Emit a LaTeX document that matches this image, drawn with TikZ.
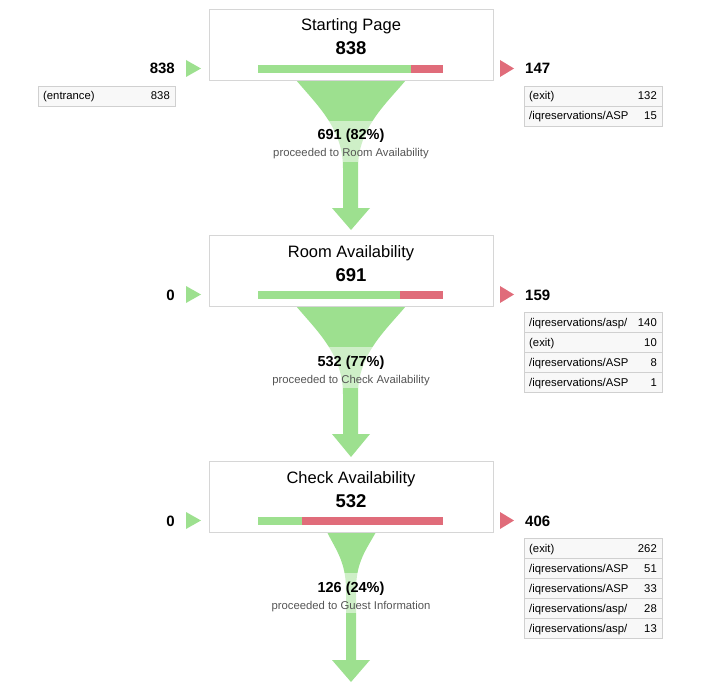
\documentclass[tikz,border=0pt]{standalone}
\usepackage{fontspec}
\setmainfont{Liberation Sans}
\definecolor{fgreen}{RGB}{157,224,143}
\definecolor{fred}{RGB}{224,108,122}
\definecolor{boxgray}{RGB}{214,214,214}
\definecolor{cellgray}{RGB}{208,208,208}
\definecolor{cellfill}{RGB}{248,248,248}
\definecolor{subgray}{RGB}{85,85,85}
\tikzset{
  stepbox/.style={draw=boxgray, fill=white, line width=0.8pt, minimum width=284pt, minimum height=71pt, inner sep=0pt, anchor=north},
  titletxt/.style={font=\fontsize{16.5}{18}\selectfont, anchor=base, inner sep=0pt},
  bignum/.style={font=\bfseries\fontsize{18.5}{20}\selectfont, anchor=base, inner sep=0pt},
  sidenum/.style={font=\bfseries\fontsize{15}{17}\selectfont, inner sep=0pt},
  pcttxt/.style={font=\bfseries\fontsize{14.5}{16}\selectfont, anchor=base, inner sep=0pt},
  subtxt/.style={font=\fontsize{11.3}{13}\selectfont, text=subgray, anchor=base, inner sep=0pt},
  cell/.style={draw=cellgray, fill=cellfill, line width=0.7pt, minimum width=138pt, minimum height=20pt, inner sep=0pt, anchor=north west},
  celltxt/.style={font=\fontsize{11.3}{13}\selectfont, inner sep=0pt},
  funnel/.style={fill=fgreen, draw=none},
  band/.style={fill=white, opacity=0.5, draw=none},
}
\begin{document}
\begin{tikzpicture}[x=1pt,y=-1pt]
\useasboundingbox (0,0) rectangle (725,687);

% ---------- funnels (drawn first, under boxes) ----------
% step 1 -> 2
\fill[funnel] (296,80) .. controls (316,104) and (343,128) .. (343,168) -- (343,208) -- (332,208) -- (351,230) -- (370,208) -- (358,208) -- (358,168) .. controls (358,128) and (386,104) .. (406,80) -- cycle;
\fill[band] (290,121) rectangle (412,162);
% step 2 -> 3
\fill[funnel] (296,306) .. controls (316,330) and (343,354) .. (343,394) -- (343,434) -- (332,434) -- (351,457) -- (370,434) -- (358,434) -- (358,394) .. controls (358,354) and (386,330) .. (406,306) -- cycle;
\fill[band] (290,347) rectangle (412,388);
% step 3 -> next
\fill[funnel] (327,532) .. controls (336,550) and (346,562) .. (346,590) -- (346,660) -- (332,660) -- (351,682) -- (370,660) -- (356,660) -- (356,590) .. controls (356,562) and (366,550) .. (376,532) -- cycle;
\fill[band] (320,573) rectangle (382,613);

% ---------- step boxes ----------
\node[stepbox] (b1) at (351,9) {};
\node[stepbox] (b2) at (351,235) {};
\node[stepbox] (b3) at (351,461) {};

\node[titletxt] (t1) at (351,31) {Starting Page};
\node[bignum] (n1) at (351,55) {838};
\node[titletxt] (t2) at (351,257) {Room Availability};
\node[bignum] (n2) at (351,281) {691};
\node[titletxt] (t3) at (351,483) {Check Availability};
\node[bignum] (n3) at (351,507) {532};

% bars
\fill[fgreen] (258,65) rectangle (411,73);
\fill[fred] (411,65) rectangle (443,73);
\fill[fgreen] (258,291) rectangle (400,299);
\fill[fred] (400,291) rectangle (443,299);
\fill[fgreen] (258,517) rectangle (302,525);
\fill[fred] (302,517) rectangle (443,525);

% funnel labels
\node[pcttxt] (p1) at (351,140) {691 (82\%)};
\node[subtxt] (s1) at (351,157) {proceeded to Room Availability};
\node[pcttxt] (p2) at (351,366) {532 (77\%)};
\node[subtxt] (s2) at (351,383) {proceeded to Check Availability};
\node[pcttxt] (p3) at (351,592) {126 (24\%)};
\node[subtxt] (s3) at (351,609) {proceeded to Guest Information};

% ---------- left side (entrances) ----------
\fill[fgreen] (186,60) -- (201,68.5) -- (186,77) -- cycle;
\fill[fgreen] (186,286) -- (201,294.5) -- (186,303) -- cycle;
\fill[fgreen] (186,512) -- (201,520.5) -- (186,529) -- cycle;
\node[sidenum, anchor=base east] (l1) at (175,74) {838};
\node[sidenum, anchor=base east] (l2) at (175,300) {0};
\node[sidenum, anchor=base east] (l3) at (175,526) {0};

\node[cell, minimum width=137pt] (e1) at (38,86) {};
\node[celltxt, anchor=base west] at (43,100) {(entrance)};
\node[celltxt, anchor=base east] at (170,100) {838};

% ---------- right side (exits) ----------
\fill[fred] (500,60) -- (514,68.5) -- (500,77) -- cycle;
\fill[fred] (500,286) -- (514,294.5) -- (500,303) -- cycle;
\fill[fred] (500,512) -- (514,520.5) -- (500,529) -- cycle;
\node[sidenum, anchor=base west] (r1) at (525,74) {147};
\node[sidenum, anchor=base west] (r2) at (525,300) {159};
\node[sidenum, anchor=base west] (r3) at (525,526) {406};

% exit table 1
\node[cell] (x11) at (524,86) {};
\node[celltxt, anchor=base west] at (529,100) {(exit)};
\node[celltxt, anchor=base east] at (657,100) {132};
\node[cell] (x12) at (524,106) {};
\node[celltxt, anchor=base west] at (529,120) {/iqreservations/ASP};
\node[celltxt, anchor=base east] at (657,120) {15};

% exit table 2
\node[cell] (x21) at (524,312) {};
\node[celltxt, anchor=base west] at (529,326) {/iqreservations/asp/};
\node[celltxt, anchor=base east] at (657,326) {140};
\node[cell] (x22) at (524,332) {};
\node[celltxt, anchor=base west] at (529,346) {(exit)};
\node[celltxt, anchor=base east] at (657,346) {10};
\node[cell] (x23) at (524,352) {};
\node[celltxt, anchor=base west] at (529,366) {/iqreservations/ASP};
\node[celltxt, anchor=base east] at (657,366) {8};
\node[cell] (x24) at (524,372) {};
\node[celltxt, anchor=base west] at (529,386) {/iqreservations/ASP};
\node[celltxt, anchor=base east] at (657,386) {1};

% exit table 3
\node[cell] (x31) at (524,538) {};
\node[celltxt, anchor=base west] at (529,552) {(exit)};
\node[celltxt, anchor=base east] at (657,552) {262};
\node[cell] (x32) at (524,558) {};
\node[celltxt, anchor=base west] at (529,572) {/iqreservations/ASP};
\node[celltxt, anchor=base east] at (657,572) {51};
\node[cell] (x33) at (524,578) {};
\node[celltxt, anchor=base west] at (529,592) {/iqreservations/ASP};
\node[celltxt, anchor=base east] at (657,592) {33};
\node[cell] (x34) at (524,598) {};
\node[celltxt, anchor=base west] at (529,612) {/iqreservations/asp/};
\node[celltxt, anchor=base east] at (657,612) {28};
\node[cell] (x35) at (524,618) {};
\node[celltxt, anchor=base west] at (529,632) {/iqreservations/asp/};
\node[celltxt, anchor=base east] at (657,632) {13};
\end{tikzpicture}
\end{document}
